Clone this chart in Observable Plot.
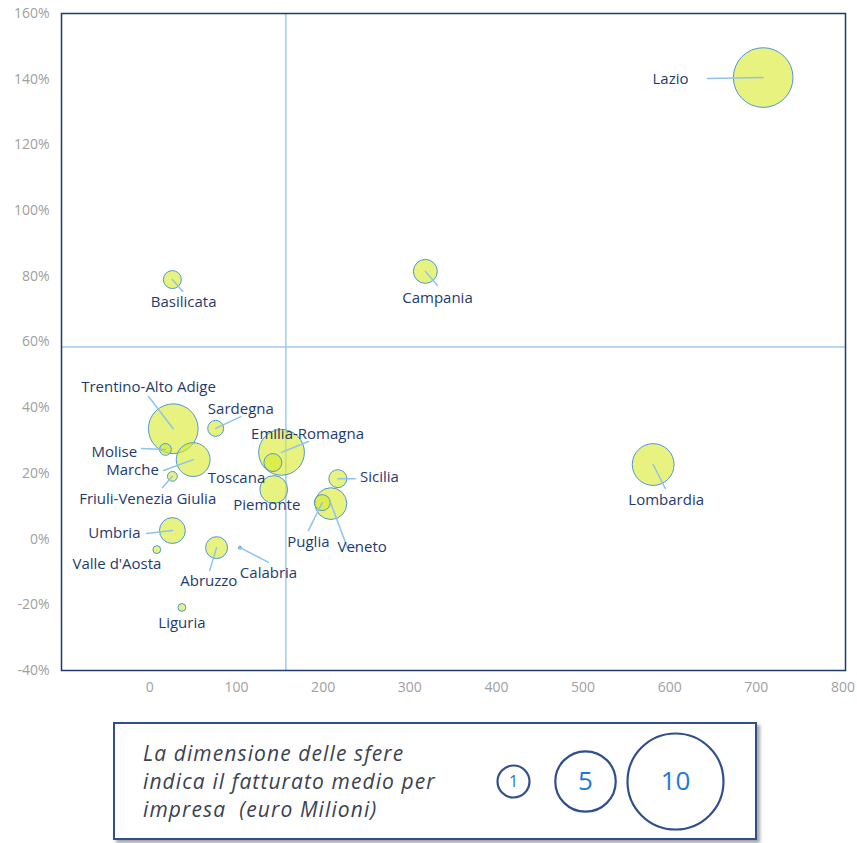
<!DOCTYPE html>
<html>
<head>
<meta charset="utf-8">
<script src="https://cdn.jsdelivr.net/npm/d3@7"></script>
<script src="https://cdn.jsdelivr.net/npm/@observablehq/plot@0.6"></script>
<style>
  html, body { margin: 0; padding: 0; background: #fff; }
  body { width: 857px; height: 843px; position: relative; font-family: "Open Sans", sans-serif; }
  #chart { position: absolute; left: 0; top: 0; }
  #legend { position: absolute; left: 113px; top: 722px; width: 640px; height: 114px;
            border: 2px solid #2f4f8f; box-shadow: 3px 3px 3px rgba(0,0,0,0.35); background: #fff; }
  #legend .txt { position: absolute; left: 28px; top: 15px; font-style: italic; font-size: 21px;
                 letter-spacing: 1.1px; line-height: 28px; color: #3b4252; white-space: nowrap; }
  #legend .circ { position: absolute; left: 0; top: 0; }
</style>
</head>
<body>
<div id="chart"></div>
<div id="legend"><div class="txt">La dimensione delle sfere<br>indica il fatturato medio per<br>impresa&nbsp; (euro Milioni)</div><div class="circ" id="legendPlot"></div></div>
<script>
// ---- data ----
const regions  = ["Lazio","Lombardia","Campania","Basilicata","Trentino-Alto Adige","Sardegna","Emilia-Romagna","Molise","Marche","Toscana","Piemonte","Friuli-Venezia Giulia","Umbria","Valle d'Aosta","Abruzzo","Calabria","Liguria","Sicilia","Veneto","Puglia"];
const xValues  = [708, 581, 318, 26, 27, 76, 152, 18, 50, 142, 143, 26, 26, 8, 77, 104, 37, 217, 209, 199];
const yValues  = [140.5, 22.7, 81.5, 79.0, 33.6, 33.7, 26.4, 27.3, 24.2, 23.3, 15.1, 19.1, 2.6, -3.2, -2.6, -2.6, -20.8, 18.4, 10.8, 11.1];
const fatturato = [5.85, 2.87, 0.94, 0.53, 4.06, 0.42, 3.44, 0.23, 1.88, 0.53, 1.27, 0.16, 1.10, 0.10, 0.79, 0.015, 0.10, 0.53, 1.66, 0.42];

// label anchor positions (data units) and leader-line end points (data units; null = no leader)
const labelX   = [601, 596, 332, 39, -1.5, 105, 182, -41, -20, 100, 135, -2.5, -41, -38, 68, 137, 37, 265, 245, 183];
const labelY   = [139.9, 11.7, 73.2, 72.0, 46.1, 39.4, 31.8, 26.6, 20.9, 18.4, 10.2, 12.1, 1.7, -7.7, -12.9, -10.5, -25.7, 18.8, -2.6, -1.0];
const leaderX  = [644, 595, 332, 38, -1.5, 105, 183, -9.6, 15.8, null, null, 14.7, -3.8, null, 69, 137, null, 237, 228, 183];
const leaderY  = [140.2, 15.4, 77.2, 75.4, 43.4, 37.3, 29.7, 27.6, 20.9, null, null, 15.7, 1.7, null, -9.6, -7.1, null, 18.4, -2.6, 2.6];
// Veneto leader has a short horizontal elbow
const elbowRegion = "Veneto", elbowX = 237, elbowY = -2.6;

const refX = 157;    // vertical reference line
const refY = 58.5;   // horizontal reference line (%)

const xTicks = [0, 100, 200, 300, 400, 500, 600, 700, 800];
const yTicks = [-40, -20, 0, 20, 40, 60, 80, 100, 120, 140, 160];

const legendValues = [1, 5, 10];

// ---- build tables ----
const data = regions.map((r, i) => ({region: r, x: xValues[i], y: yValues[i], size: fatturato[i]}))
  .sort((a, b) => b.size - a.size);
const labels = regions.map((r, i) => ({region: r, x: labelX[i], y: labelY[i]}));
const leaders = [];
regions.forEach((r, i) => {
  if (leaderX[i] == null) return;
  leaders.push({region: r, x: xValues[i], y: yValues[i]});
  leaders.push({region: r, x: leaderX[i], y: leaderY[i]});
  if (r === elbowRegion) leaders.push({region: r, x: elbowX, y: elbowY});
});

const navy = "#1f3b6e";
const font = "Open Sans, sans-serif";

const chart = Plot.plot({
  width: 857,
  height: 708,
  marginLeft: 61,
  marginRight: 12,
  marginTop: 13,
  marginBottom: 38,
  style: {fontFamily: font, background: "#fff"},
  x: {domain: [-102, 803], label: null},
  y: {domain: [-40, 160], label: null},
  r: {type: "sqrt", domain: [0, 10], range: [0, 39]},
  marks: [
    Plot.ruleX([refX], {stroke: "#9fcaf2", strokeWidth: 1.5}),
    Plot.ruleY([refY], {stroke: "#9fcaf2", strokeWidth: 1.5}),
    Plot.dot(data, {x: "x", y: "y", r: "size", fill: "#d7eb28", fillOpacity: 0.6, stroke: "#4f97d4", strokeWidth: 1}),
    Plot.line(leaders, {x: "x", y: "y", z: "region", stroke: "#8ec2f0", strokeWidth: 1.5}),
    Plot.text(labels, {x: "x", y: "y", text: "region", fill: navy, fontSize: 15}),
    Plot.axisY(yTicks, {tickSize: 0, tickPadding: 12, tickFormat: d => d + "%", fill: "#a0a0a0", fontSize: 14, label: null}),
    Plot.axisX(xTicks, {tickSize: 0, tickPadding: 12, fill: "#a0a0a0", fontSize: 14, label: null}),
    Plot.frame({stroke: "#1f3b6e", strokeWidth: 1.5})
  ]
});
document.getElementById("chart").appendChild(chart);

const legend = Plot.plot({
  width: 640,
  height: 114,
  margin: 0,
  style: {fontFamily: font, background: "transparent"},
  x: {domain: [1, 10], range: [398, 560], axis: null},
  r: {type: "linear", domain: [1, 10], range: [16, 48]},
  marks: [
    Plot.dot(legendValues, {x: d => d, r: d => d, stroke: "#2f4f8f", strokeWidth: 2.2, fill: "none"}),
    Plot.text(legendValues, {x: d => d, text: d => String(d), fill: "#1f78d6", fontSize: d => d === 1 ? 16 : 26})
  ]
});
document.getElementById("legendPlot").appendChild(legend);
</script>
</body>
</html>
